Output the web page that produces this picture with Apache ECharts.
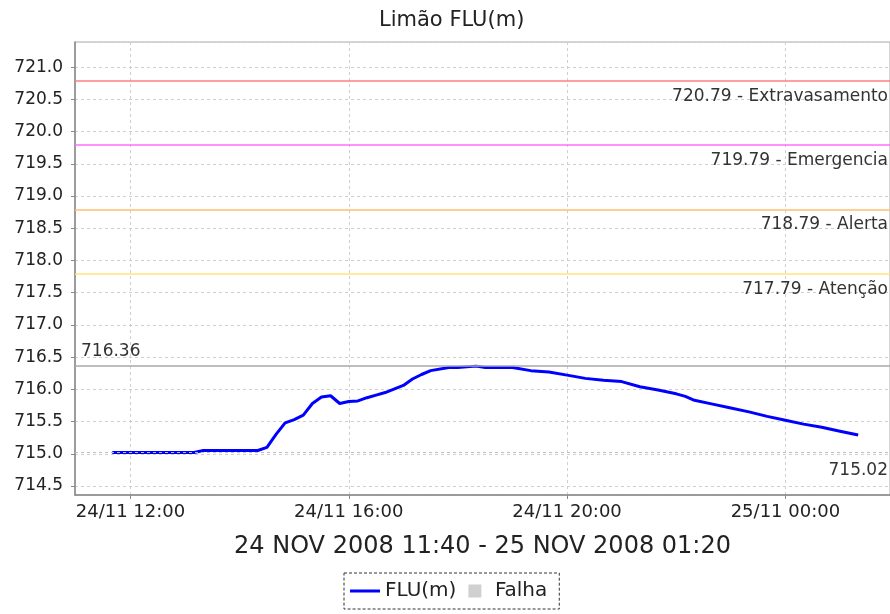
<!DOCTYPE html>
<html>
<head>
<meta charset="utf-8">
<script src="https://cdn.jsdelivr.net/npm/echarts@6/dist/echarts.min.js"></script>
<style>
  html, body { margin: 0; padding: 0; background: #fff; }
  #chart { width: 890px; height: 614px; }
</style>
</head>
<body>
<div id="chart"></div>
<script>
var chartTitle = 'Limão FLU(m)';
var periodText = '24 NOV 2008 11:40 - 25 NOV 2008 01:20';

// leituras (dd/MM HH:mm)
var times = [
  '24/11 11:40', '24/11 12:00', '24/11 12:20', '24/11 12:40', '24/11 13:00', '24/11 13:10',
  '24/11 13:20', '24/11 13:40', '24/11 14:00', '24/11 14:20', '24/11 14:30', '24/11 14:40',
  '24/11 14:50', '24/11 15:00', '24/11 15:10', '24/11 15:20', '24/11 15:30', '24/11 15:40',
  '24/11 15:50', '24/11 16:00', '24/11 16:10', '24/11 16:20', '24/11 16:30', '24/11 16:40',
  '24/11 17:00', '24/11 17:10', '24/11 17:20', '24/11 17:30', '24/11 17:50', '24/11 18:00',
  '24/11 18:20', '24/11 18:30', '24/11 18:40', '24/11 19:00', '24/11 19:20', '24/11 19:40',
  '24/11 20:00', '24/11 20:20', '24/11 20:40', '24/11 21:00', '24/11 21:20', '24/11 21:40',
  '24/11 22:00', '24/11 22:10', '24/11 22:20', '24/11 22:40', '24/11 23:00', '24/11 23:20',
  '24/11 23:40', '25/11 00:00', '25/11 00:20', '25/11 00:40', '25/11 01:00', '25/11 01:20'
];
var levels = [
  715.02, 715.02, 715.02, 715.02, 715.02, 715.02,
  715.05, 715.05, 715.05, 715.05, 715.10, 715.30,
  715.48, 715.53, 715.60, 715.78, 715.88, 715.90,
  715.78, 715.81, 715.82, 715.87, 715.91, 715.95,
  716.06, 716.16, 716.23, 716.29, 716.34, 716.34,
  716.36, 716.34, 716.34, 716.34, 716.29, 716.27,
  716.22, 716.17, 716.14, 716.12, 716.04, 715.99,
  715.93, 715.89, 715.83, 715.77, 715.71, 715.65,
  715.58, 715.52, 715.46, 715.41, 715.35, 715.29
];

// cotas de referencia
var limitValues = [720.79, 719.79, 718.79, 717.79];
var limitNames = ['Extravasamento', 'Emergencia', 'Alerta', 'Atenção'];
var limitColors = ['rgb(255,128,128)', 'rgb(255,110,255)', 'rgb(255,190,110)', 'rgb(255,228,120)'];
var maxLevel = 716.36;
var minLevel = 715.02;

var xStart = '24/11 10:59';
var xEnd = '25/11 01:55';
var yMin = 714.36;
var yMax = 721.39;

var FONT = 'DejaVu Sans';

function parseTime(s) {
  var p = s.split(' ');
  var d = p[0].split('/');
  var h = p[1].split(':');
  return Date.UTC(2008, parseInt(d[1], 10) - 1, parseInt(d[0], 10), parseInt(h[0], 10), parseInt(h[1], 10));
}

function pad(n) {
  return (n < 10 ? '0' : '') + n;
}

function formatTime(v) {
  var dt = new Date(v);
  return pad(dt.getUTCDate()) + '/' + pad(dt.getUTCMonth() + 1) + ' ' + pad(dt.getUTCHours()) + ':' + pad(dt.getUTCMinutes());
}

var seriesData = [];
for (var i = 0; i < times.length; i++) {
  seriesData.push([parseTime(times[i]), levels[i]]);
}

// uma serie auxiliar por linha de referencia
function refLine(value, color, width, dash, position, text, distance) {
  return {
    type: 'line',
    data: [],
    silent: true,
    markLine: {
      silent: true,
      symbol: 'none',
      animation: false,
      lineStyle: { color: color, width: width, type: dash, opacity: 1 },
      label: {
        position: position,
        distance: distance,
        fontFamily: FONT,
        fontSize: 17,
        color: '#333',
        formatter: text
      },
      data: [{ yAxis: value }]
    }
  };
}

var series = [
  {
    name: 'FLU(m)',
    type: 'line',
    data: seriesData,
    symbol: 'none',
    color: '#0000ff',
    lineStyle: { color: '#0000ff', width: 3 },
    z: 4
  },
  {
    name: 'Falha',
    type: 'scatter',
    data: [],
    color: '#c4c4c4'
  }
];
for (var j = 0; j < limitValues.length; j++) {
  series.push(refLine(limitValues[j], limitColors[j], 1.5, 'solid', 'insideEndBottom',
    limitValues[j].toFixed(2) + ' - ' + limitNames[j], [2, 7]));
}
series.push(refLine(maxLevel, '#a8a8a8', 1.5, 'solid', 'insideStartTop', maxLevel.toFixed(2), [6, 6]));
series.push(refLine(minLevel, '#bdbdbd', 1, [3, 3], 'insideEndBottom', minLevel.toFixed(2), [2, 10]));

var chart = echarts.init(document.getElementById('chart'));

var option = {
  animation: false,
  backgroundColor: '#fff',
  title: {
    text: chartTitle,
    left: 374,
    top: 5,
    textStyle: { fontFamily: FONT, fontSize: 21, fontWeight: 'normal', color: '#222' }
  },
  legend: {
    left: 344,
    top: 573,
    padding: [8, 12, 8, 6],
    itemWidth: 30,
    itemHeight: 13,
    itemGap: 12,
    borderColor: '#333',
    borderWidth: 1,
    borderType: [3, 2],
    textStyle: { fontFamily: FONT, fontSize: 20, color: '#222' },
    data: [
      { name: 'FLU(m)', icon: 'path://M0,0h30v3h-30z' },
      { name: 'Falha', icon: 'path://M0,0h10v10h-10z' }
    ]
  },
  grid: {
    left: 75,
    top: 42,
    right: -1,
    bottom: 119,
    show: true,
    borderColor: '#aaa',
    borderWidth: 1
  },
  xAxis: {
    type: 'value',
    min: parseTime(xStart),
    max: parseTime(xEnd),
    splitNumber: 4,
    minInterval: 4 * 3600 * 1000,
    maxInterval: 4 * 3600 * 1000,
    name: periodText,
    nameLocation: 'middle',
    nameGap: 40,
    nameTextStyle: { fontFamily: FONT, fontSize: 24, color: '#222' },
    axisLine: { show: true, lineStyle: { color: '#888', width: 1.5 } },
    axisTick: { show: true, length: 4, lineStyle: { color: '#888' } },
    axisLabel: {
      fontFamily: FONT,
      fontSize: 18,
      color: '#222',
      margin: 8,
      showMinLabel: false,
      showMaxLabel: false,
      formatter: formatTime
    },
    splitLine: { show: true, lineStyle: { color: '#cfcfcf', type: [3, 3] } }
  },
  yAxis: {
    type: 'value',
    min: yMin,
    max: yMax,
    splitNumber: 14,
    minInterval: 0.5,
    maxInterval: 0.5,
    axisLine: { show: true, lineStyle: { color: '#888', width: 1.5 } },
    axisTick: { show: true, length: 4, lineStyle: { color: '#888' } },
    axisLabel: {
      fontFamily: FONT,
      fontSize: 17,
      color: '#222',
      margin: 12,
      showMinLabel: false,
      showMaxLabel: false,
      formatter: function (v) { return v.toFixed(1); }
    },
    splitLine: { show: true, lineStyle: { color: '#cfcfcf', type: [3, 3] } }
  },
  series: series
};

chart.setOption(option);
</script>
</body>
</html>
